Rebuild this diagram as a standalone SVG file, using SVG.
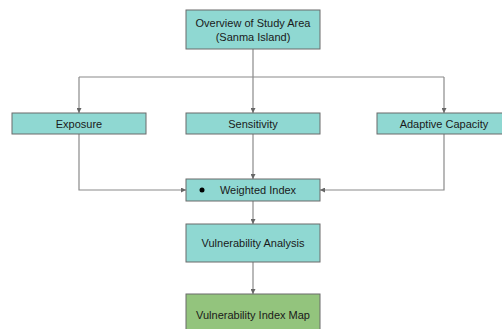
<svg xmlns="http://www.w3.org/2000/svg" width="502" height="329" viewBox="0 0 502 329">
<style>
.box{fill:#8fd8d2;stroke:#6b6b6b;stroke-width:1}
.green{fill:#93c47d;stroke:#6b6b6b;stroke-width:1}
.lbl{font-family:"Liberation Sans",Arial,sans-serif;font-size:11px;fill:#1a1a1a;text-anchor:middle}
.ln{fill:none;stroke:#8a8a8a;stroke-width:1.2}
</style>
<defs>
<marker id="ah" viewBox="0 0 6 6" refX="6" refY="3" markerWidth="5" markerHeight="5" orient="auto" markerUnits="userSpaceOnUse">
<path d="M0,0 L6,3 L0,6 Z" fill="#666"/>
</marker>
</defs>
<rect width="502" height="329" fill="#ffffff"/>
<g id="connectors">
<path class="ln" d="M253,49 V77"/>
<path class="ln" d="M79,77 H444"/>
<path class="ln" d="M79,77 V113" marker-end="url(#ah)"/>
<path class="ln" d="M253,77 V113" marker-end="url(#ah)"/>
<path class="ln" d="M444,77 V113" marker-end="url(#ah)"/>
<path class="ln" d="M253,134 V179" marker-end="url(#ah)"/>
<path class="ln" d="M79,134 V190 H186" marker-end="url(#ah)"/>
<path class="ln" d="M444,134 V190 H320" marker-end="url(#ah)"/>
<path class="ln" d="M253,201 V224" marker-end="url(#ah)"/>
<path class="ln" d="M253,262 V294" marker-end="url(#ah)"/>
</g>
<g id="overview">
<rect class="box" x="186" y="10" width="134" height="39"/>
<text class="lbl" x="253" y="27">Overview of Study Area</text>
<text class="lbl" x="253" y="41">(Sanma Island)</text>
</g>
<g id="exposure">
<rect class="box" x="12" y="113" width="134" height="21"/>
<text class="lbl" x="79" y="127.5">Exposure</text>
</g>
<g id="sensitivity">
<rect class="box" x="186" y="113" width="134" height="21"/>
<text class="lbl" x="253" y="127.5">Sensitivity</text>
</g>
<g id="adaptive">
<rect class="box" x="377" y="113" width="134" height="21"/>
<text class="lbl" x="444" y="127.5">Adaptive Capacity</text>
</g>
<g id="weighted">
<rect class="box" x="186" y="179" width="134" height="22"/>
<circle cx="202" cy="190" r="2.5" fill="#000"/>
<text class="lbl" x="258" y="194">Weighted Index</text>
</g>
<g id="analysis">
<rect class="box" x="186" y="224" width="134" height="38"/>
<text class="lbl" x="253" y="247">Vulnerability Analysis</text>
</g>
<g id="map">
<rect class="green" x="186" y="294" width="134" height="40"/>
<text class="lbl" x="253" y="319">Vulnerability Index Map</text>
</g>
</svg>
